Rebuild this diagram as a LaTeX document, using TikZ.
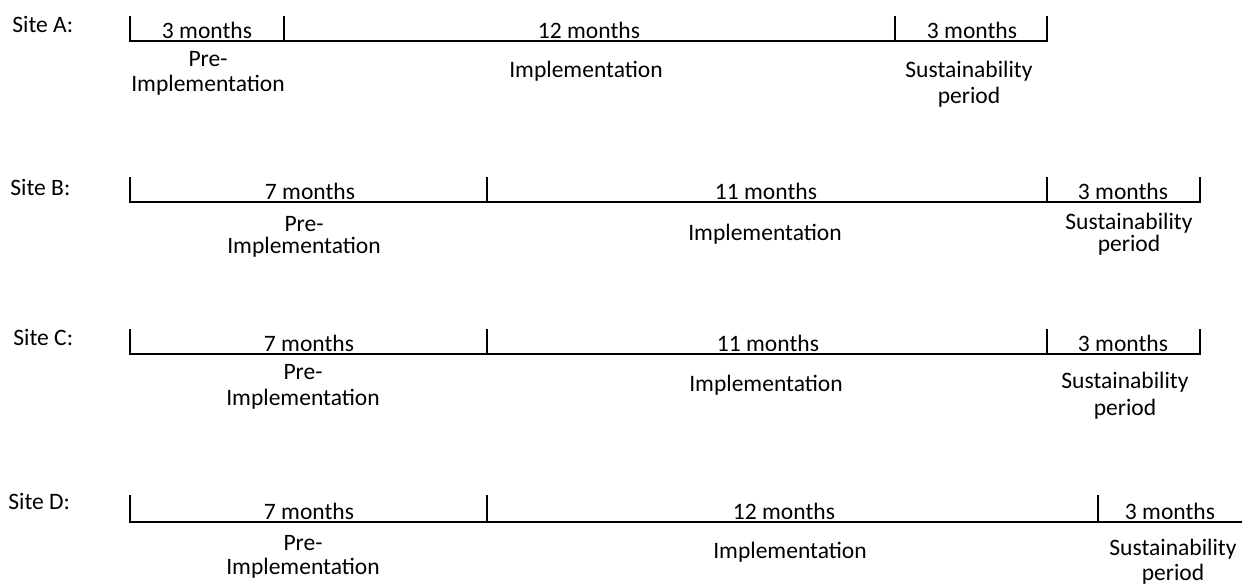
\documentclass[tikz,border=0pt]{standalone}
\usepackage{fontspec}
\setmainfont{Carlito}

\begin{document}
\begin{tikzpicture}[x = 0.02cm, y = -0.02cm]
\tikzstyle{every node} = [inner sep = 0pt, font = \fontsize{13.4}{11.8}\selectfont]
\tikzstyle{lineStyle} = [line width = 0.9pt, black]
\tikzstyle{siteStyle} = [anchor = base west]
\tikzstyle{monthStyle} = [anchor = base]
\tikzstyle{phaseStyle} = [anchor = base, align = center]
\useasboundingbox (0, 0) rectangle (1242, 586);
% Site A
\node[siteStyle] (sA) at (12, 32) {Site A:};
\coordinate (a0) at (130, 41);   \coordinate (a0t) at (130, 16);
\coordinate (a1) at (284, 41);   \coordinate (a1t) at (284, 16);
\coordinate (a2) at (895, 41);   \coordinate (a2t) at (895, 16);
\coordinate (a3) at (1047, 41);  \coordinate (a3t) at (1047, 16);
\draw[lineStyle] (a0t) -- (a0) -- (a3) -- (a3t);
\draw[lineStyle] (a1) -- (a1t);
\draw[lineStyle] (a2) -- (a2t);
\node[monthStyle] (mA1) at (207, 38) {3 months};
\node[monthStyle] (mA2) at (589, 38) {12 months};
\node[monthStyle] (mA3) at (972, 38) {3 months};
\node[phaseStyle] (pA1) at (208, 91) {Pre-\\[2.4pt]Implementation};
\node[phaseStyle] (pA2) at (586, 77) {Implementation};
\node[phaseStyle] (pA3) at (969, 103) {Sustainability\\[3pt]period};
% Site B
\node[siteStyle] (sB) at (10, 195) {Site B:};
\coordinate (b0) at (130, 202);  \coordinate (b0t) at (130, 177);
\coordinate (b1) at (487, 202);  \coordinate (b1t) at (487, 177);
\coordinate (b2) at (1047, 202); \coordinate (b2t) at (1047, 177);
\coordinate (b3) at (1200, 202); \coordinate (b3t) at (1200, 177);
\draw[lineStyle] (b0t) -- (b0) -- (b3) -- (b3t);
\draw[lineStyle] (b1) -- (b1t);
\draw[lineStyle] (b2) -- (b2t);
\node[monthStyle] (mB1) at (310, 199) {7 months};
\node[monthStyle] (mB2) at (766, 199) {11 months};
\node[monthStyle] (mB3) at (1123, 199) {3 months};
\node[phaseStyle] (pB1) at (304, 253) {Pre-\\[0.6pt]Implementation};
\node[phaseStyle] (pB2) at (765, 240) {Implementation};
\node[phaseStyle] (pB3) at (1129, 251) {Sustainability\\[0.7pt]period};
% Site C
\node[siteStyle] (sC) at (13, 345) {Site C:};
\coordinate (c0) at (130, 354);  \coordinate (c0t) at (130, 329);
\coordinate (c1) at (487, 354);  \coordinate (c1t) at (487, 329);
\coordinate (c2) at (1047, 354); \coordinate (c2t) at (1047, 329);
\coordinate (c3) at (1200, 354); \coordinate (c3t) at (1200, 329);
\draw[lineStyle] (c0t) -- (c0) -- (c3) -- (c3t);
\draw[lineStyle] (c1) -- (c1t);
\draw[lineStyle] (c2) -- (c2t);
\node[monthStyle] (mC1) at (309, 351) {7 months};
\node[monthStyle] (mC2) at (768, 351) {11 months};
\node[monthStyle] (mC3) at (1123, 351) {3 months};
\node[phaseStyle] (pC1) at (303, 405) {Pre-\\[3pt]Implementation};
\node[phaseStyle] (pC2) at (766, 391) {Implementation};
\node[phaseStyle] (pC3) at (1125, 415) {Sustainability\\[3.5pt]period};
% Site D
\node[siteStyle] (sD) at (8, 509) {Site D:};
\coordinate (d0) at (130, 522);  \coordinate (d0t) at (130, 495);
\coordinate (d1) at (487, 522);  \coordinate (d1t) at (487, 495);
\coordinate (d2) at (1098, 522); \coordinate (d2t) at (1098, 495);
\coordinate (d3) at (1242, 522);
\draw[lineStyle] (d0t) -- (d0) -- (d3);
\draw[lineStyle] (d1) -- (d1t);
\draw[lineStyle] (d2) -- (d2t);
\node[monthStyle] (mD1) at (309, 519) {7 months};
\node[monthStyle] (mD2) at (784, 519) {12 months};
\node[monthStyle] (mD3) at (1170, 519) {3 months};
\node[phaseStyle] (pD1) at (303, 574) {Pre-\\[1.3pt]Implementation};
\node[phaseStyle] (pD2) at (790, 558) {Implementation};
\node[phaseStyle] (pD3) at (1173, 580) {Sustainability\\[2pt]period};
\end{tikzpicture}
\end{document}
